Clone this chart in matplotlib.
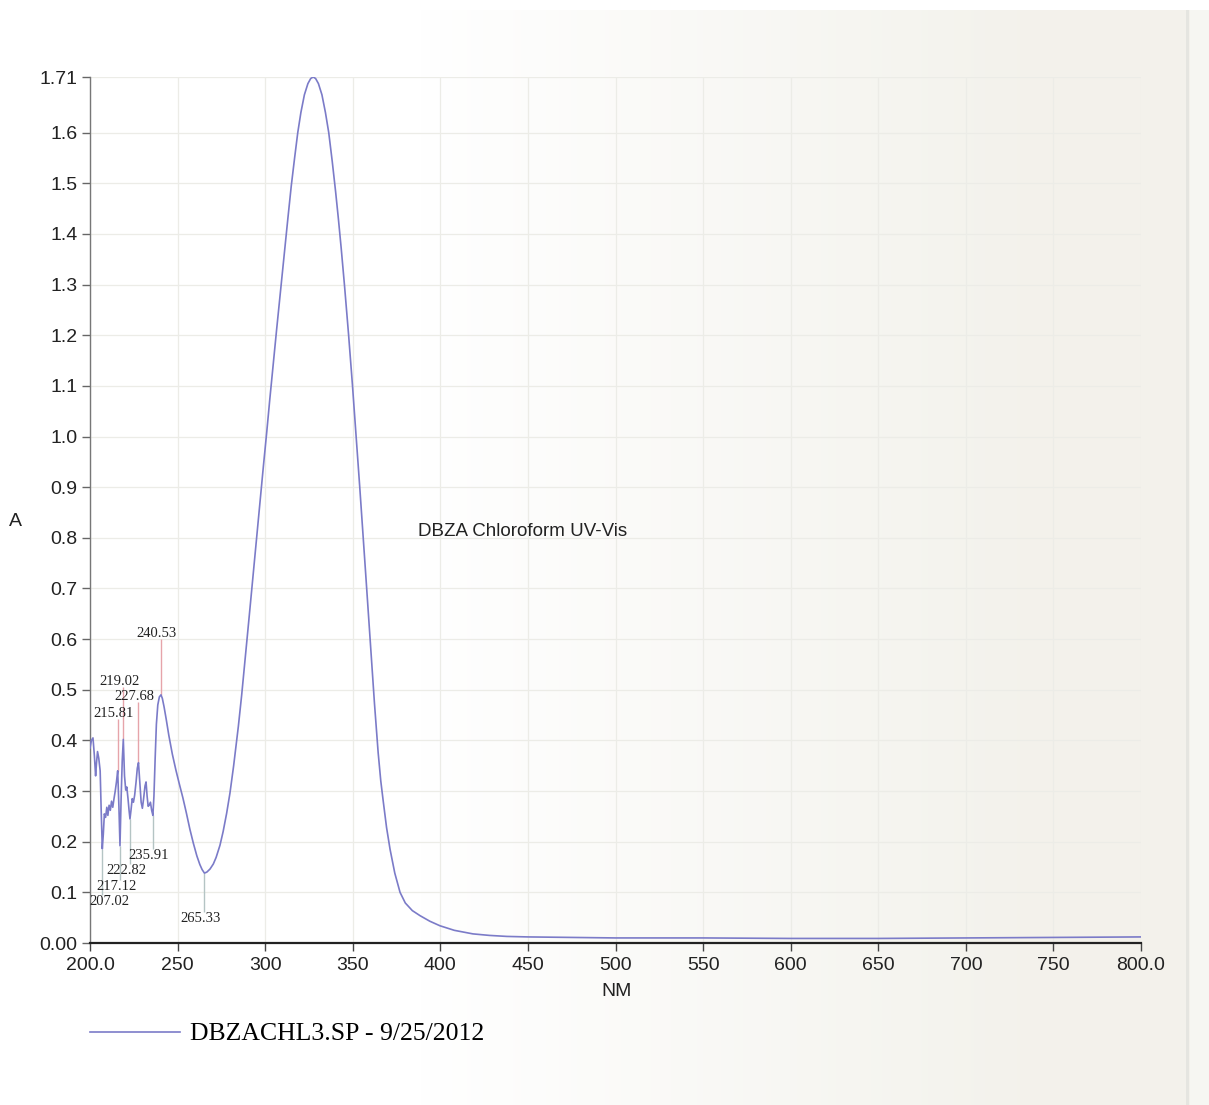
import numpy as np
import matplotlib
matplotlib.use("Agg")
import matplotlib.pyplot as plt
from matplotlib.lines import Line2D

# ---- spectrum: wavelength (nm) and absorbance ----
wavelength = [
    200.0, 200.8, 201.7, 202.5, 203.2, 203.7, 204.3, 205.0, 205.8, 206.4,
    207.02, 207.6, 208.2, 208.9, 209.6, 210.2, 210.9, 211.6, 212.3, 213.0,
    213.7, 214.4, 215.1, 215.81, 216.5, 217.12, 217.8, 218.4, 219.02, 219.7,
    220.4, 221.0, 221.7, 222.3, 222.82, 223.4, 224.1, 224.8, 225.5, 226.3,
    227.0, 227.68, 228.4, 229.2, 229.9, 230.6, 231.4, 232.0, 232.6, 233.2,
    233.8, 234.5, 235.2, 235.91, 236.5, 237.2, 237.9, 238.7, 239.6, 240.53,
    241.3, 242.3, 243.5, 245.0, 247.0, 249.0, 251.0, 253.0, 255.0, 257.0,
    259.0, 261.0, 262.7, 264.0, 265.33, 266.7, 268.5, 270.4, 272.0, 274.2,
    276.0, 278.0, 279.9, 282.0, 284.7, 286.6, 288.0, 289.5, 291.3, 293.2,
    295.2, 297.0, 299.0, 300.9, 302.6, 304.5, 306.5, 308.4, 311.1, 313.0,
    314.9, 316.8, 318.6, 320.4, 322.4, 324.4, 326.0, 327.4, 328.8, 330.4,
    332.4, 334.4, 336.3, 338.3, 340.2, 341.8, 343.4, 345.3, 347.6, 349.8,
    352.0, 354.0, 355.7, 357.6, 359.5, 361.0, 362.4, 364.5, 366.0, 367.4,
    369.3, 371.3, 374.0, 377.0, 380.0, 384.0, 388.4, 394.0, 399.8, 408.0,
    418.6, 428.0, 437.9, 450.0, 475.0, 500.0, 550.0, 600.0, 650.0, 700.0,
    750.0, 800.0,
]
absorbance = [
    0.385, 0.400, 0.405, 0.370, 0.330, 0.355, 0.378, 0.365, 0.340, 0.260,
    0.186, 0.215, 0.255, 0.248, 0.268, 0.252, 0.272, 0.262, 0.280, 0.268,
    0.285, 0.300, 0.318, 0.340, 0.270, 0.192, 0.290, 0.360, 0.402, 0.330,
    0.302, 0.308, 0.285, 0.262, 0.245, 0.262, 0.285, 0.278, 0.292, 0.318,
    0.345, 0.356, 0.320, 0.278, 0.266, 0.285, 0.310, 0.318, 0.290, 0.270,
    0.272, 0.278, 0.262, 0.252, 0.290, 0.365, 0.432, 0.470, 0.486, 0.490,
    0.483, 0.466, 0.442, 0.410, 0.373, 0.342, 0.314, 0.287, 0.257, 0.225,
    0.197, 0.172, 0.155, 0.145, 0.138, 0.140, 0.146, 0.156, 0.169, 0.193,
    0.220, 0.256, 0.296, 0.350, 0.428, 0.490, 0.540, 0.594, 0.660, 0.730,
    0.803, 0.870, 0.942, 1.009, 1.072, 1.140, 1.210, 1.275, 1.367, 1.432,
    1.495, 1.550, 1.600, 1.640, 1.675, 1.697, 1.707, 1.710, 1.707, 1.697,
    1.675, 1.640, 1.600, 1.543, 1.484, 1.430, 1.372, 1.298, 1.202, 1.103,
    0.998, 0.900, 0.815, 0.718, 0.620, 0.543, 0.473, 0.376, 0.320, 0.280,
    0.228, 0.185, 0.138, 0.100, 0.079, 0.064, 0.054, 0.043, 0.034, 0.025,
    0.018, 0.015, 0.013, 0.012, 0.011, 0.010, 0.010, 0.009, 0.009, 0.010,
    0.011, 0.012,
]

# ---- picked peaks and valleys ----
peak_nm = [215.81, 219.02, 227.68, 240.53]
valley_nm = [207.02, 217.12, 222.82, 235.91, 265.33]

# ---- axis ticks ----
x_ticks = [200, 250, 300, 350, 400, 450, 500, 550, 600, 650, 700, 750, 800]
x_tick_labels = ["200.0", "250", "300", "350", "400", "450", "500", "550",
                 "600", "650", "700", "750", "800.0"]
y_ticks = [0.0, 0.1, 0.2, 0.3, 0.4, 0.5, 0.6, 0.7, 0.8, 0.9, 1.0, 1.1, 1.2,
           1.3, 1.4, 1.5, 1.6, 1.71]
y_tick_labels = ["0.00", "0.1", "0.2", "0.3", "0.4", "0.5", "0.6", "0.7",
                 "0.8", "0.9", "1.0", "1.1", "1.2", "1.3", "1.4", "1.5",
                 "1.6", "1.71"]

series_name = "DBZACHL3.SP - 9/25/2012"
chart_note = "DBZA Chloroform UV-Vis"

# label placement (x centre in nm, y end of the pick line)
peak_label_x = [213.2, 217.1, 225.6, 237.9]
peak_label_y = [0.443, 0.506, 0.476, 0.600]
valley_label_x = [210.8, 215.4, 220.8, 233.3, 263.1]
valley_label_y = [0.094, 0.125, 0.156, 0.186, 0.061]

W, H = 1209, 1105
fig = plt.figure(figsize=(W / 100, H / 100), dpi=100)
fig.patch.set_facecolor("white")

# paper tone: white on the left, warm cream towards the right
bg = fig.add_axes([0, 0, 1, 1], zorder=-10)
bg.set_axis_off()
cols = np.arange(W)
t = np.clip((cols - 420) / 600.0, 0, 1)
paper = np.array([0.953, 0.949, 0.925])
row = (1 - t)[:, None] * np.array([1.0, 1.0, 1.0]) + t[:, None] * paper
row[cols >= 1190] = np.array([0.965, 0.965, 0.950])
img = np.repeat(row[None, :, :], H, axis=0)
img[:10, :, :] = 1.0
img[10:, 1186:1189, :] = np.array([0.90, 0.90, 0.88])
bg.imshow(img, aspect="auto", extent=[0, 1, 0, 1], interpolation="bilinear")
bg.set_xlim(0, 1)
bg.set_ylim(0, 1)

ax = fig.add_axes([90 / W, 1 - 943 / H, 1051 / W, 866 / H])
ax.patch.set_alpha(0)

curve_color = "#7b7bc8"
ax.plot(wavelength, absorbance, color=curve_color, lw=1.2, zorder=3,
        solid_joinstyle="round")

# pick lines and their labels
wl_arr = np.array(wavelength)
ab_arr = np.array(absorbance)
label_font = dict(family="Liberation Serif", size=10.5, color="#222222")
for nm, lx, ly in zip(peak_nm, peak_label_x, peak_label_y):
    a = ab_arr[np.argmin(np.abs(wl_arr - nm))]
    ax.vlines(nm, a, ly, color="#e6a4aa", lw=1.0, zorder=2)
    ax.text(lx, ly + 0.004, f"{nm:.2f}", ha="center", va="baseline",
            clip_on=True, zorder=4, **label_font)
for nm, lx, ly in zip(valley_nm, valley_label_x, valley_label_y):
    a = ab_arr[np.argmin(np.abs(wl_arr - nm))]
    ax.vlines(nm, ly, a, color="#b4c4c4", lw=1.0, zorder=2)
    ax.text(lx, ly, f"{nm:.2f}", ha="center", va="top",
            clip_on=True, zorder=4, **label_font)

ax.text(387.0, 0.813, chart_note, ha="left", va="center",
        family="Liberation Sans", fontsize=13.5, color="#222222")

ax.set_xlim(200, 800)
ax.set_ylim(0, 1.71)
ax.set_xticks(x_ticks)
ax.set_xticklabels(x_tick_labels)
ax.set_yticks(y_ticks)
ax.set_yticklabels(y_tick_labels)
for lab in ax.get_xticklabels() + ax.get_yticklabels():
    lab.set_family("Liberation Sans")
    lab.set_fontsize(14)
    lab.set_color("#222222")
ax.tick_params(axis="x", direction="out", length=6, width=1.0,
               color="#444444", pad=4)
ax.tick_params(axis="y", direction="out", length=6, width=1.0,
               color="#666666", pad=3)

ax.grid(True, color="#ececE7", lw=0.9, zorder=0)
ax.set_axisbelow(True)
for side in ("top", "right"):
    ax.spines[side].set_visible(False)
ax.spines["left"].set_color("#777777")
ax.spines["left"].set_linewidth(1.0)
ax.spines["bottom"].set_color("#222222")
ax.spines["bottom"].set_linewidth(1.6)

fig.text(15 / W, 1 - 522 / H, "A", ha="center", va="center",
         family="Liberation Sans", fontsize=14, color="#222222")
fig.text(617 / W, 1 - 992 / H, "NM", ha="center", va="center",
         family="Liberation Sans", fontsize=14, color="#222222")

handle = Line2D([], [], color=curve_color, lw=1.2)
fig.legend([handle], [series_name], loc="center left",
           bbox_to_anchor=(90 / W, 1 - 1034 / H), frameon=False,
           prop=dict(family="Liberation Serif", size=18.5),
           handlelength=3.5, handletextpad=0.4, borderpad=0,
           borderaxespad=0)

fig.savefig("out.png", dpi=100)
